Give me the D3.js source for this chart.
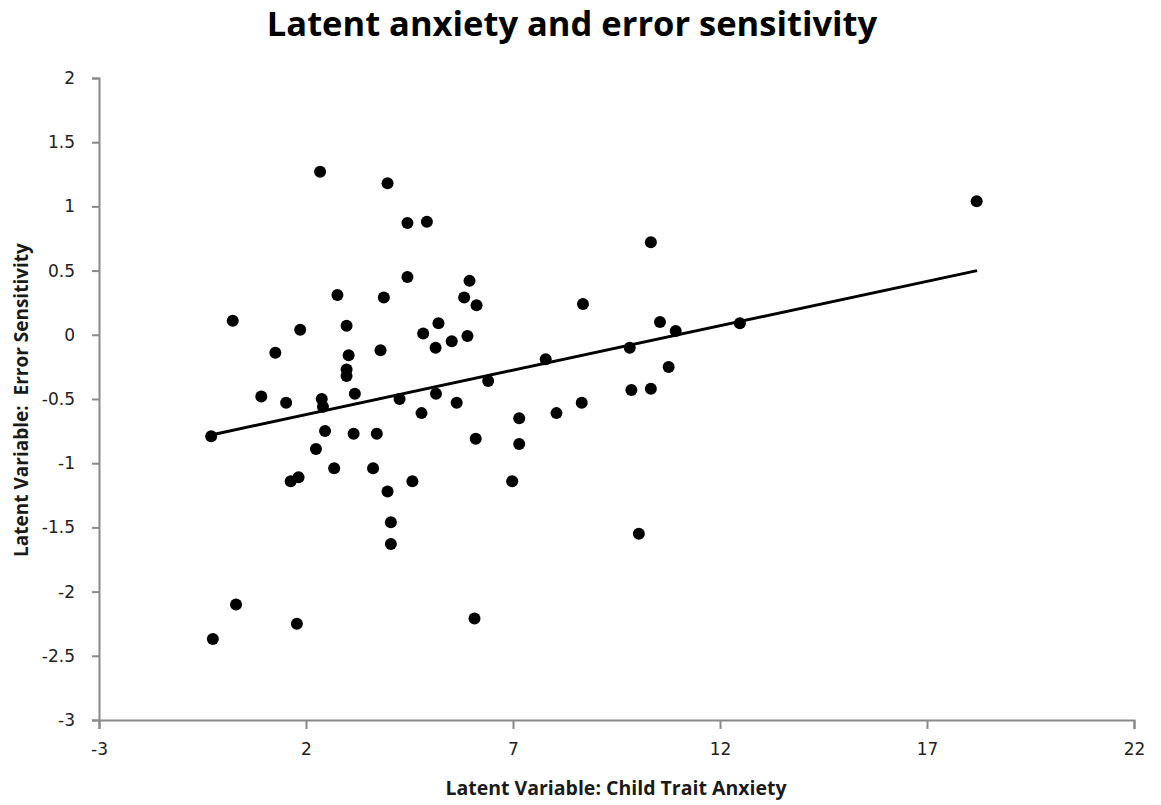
<!DOCTYPE html>
<html>
<head>
<meta charset="utf-8">
<script src="https://cdn.jsdelivr.net/npm/d3@7"></script>
<style>
  body { margin: 0; background: #fff; }
</style>
</head>
<body>
<div id="chart"></div>
<script>
// values
var anxiety = [2.34, 3.97, 4.45, 4.92, 4.45, 5.95, 2.76, 3.88, 5.82, 6.12,
    0.23, 1.86, 2.98, 5.20, 4.83, 5.90, 5.52, 5.13, 1.26, 3.80,
    3.03, 2.98, 2.98, 6.40, 3.18, 0.92, 5.14, 4.26, 1.52, 2.38,
    2.41, 5.64, 4.79, -0.29, 2.46, 3.15, 3.71, 6.10, 2.24, 2.68,
    3.62, 1.63, 1.82, 4.57, 3.97, 4.05, 4.05, 0.31, 1.78, -0.25,
    6.07, 10.33, 8.69, 10.55, 10.93, 12.48, 7.79, 9.82, 10.76, 9.86,
    10.33, 8.66, 8.05, 7.15, 7.15, 6.98, 10.04, 18.20];
var sensitivity = [1.27, 1.18, 0.87, 0.88, 0.45, 0.42, 0.31, 0.29, 0.29, 0.23,
    0.11, 0.04, 0.07, 0.09, 0.01, -0.01, -0.05, -0.10, -0.14, -0.12,
    -0.16, -0.27, -0.32, -0.36, -0.46, -0.48, -0.46, -0.50, -0.53, -0.50,
    -0.56, -0.53, -0.61, -0.79, -0.75, -0.77, -0.77, -0.81, -0.89, -1.04,
    -1.04, -1.14, -1.11, -1.14, -1.22, -1.46, -1.63, -2.10, -2.25, -2.37,
    -2.21, 0.72, 0.24, 0.10, 0.03, 0.09, -0.19, -0.10, -0.25, -0.43,
    -0.42, -0.53, -0.61, -0.65, -0.85, -1.14, -1.55, 1.04];
var trendX = [-0.29, 18.21];
var trendY = [-0.78, 0.50];
var xTicks = [-3, 2, 7, 12, 17, 22];
var yTicks = [2, 1.5, 1, 0.5, 0, -0.5, -1, -1.5, -2, -2.5, -3];

var svgWidth = 1161, svgHeight = 805;
var margin = {top: 78, right: 27, bottom: 85, left: 99};
var width = svgWidth - margin.left - margin.right;
var height = svgHeight - margin.top - margin.bottom;

var svg = d3.select('#chart').append('svg')
    .attr('width', svgWidth).attr('height', svgHeight);

var g = svg.append('g')
    .attr('transform', 'translate(' + margin.left + ' ' + margin.top + ')');

var x = d3.scaleLinear().domain([-3, 22]).range([0, width]);
var y = d3.scaleLinear().domain([-3, 2]).range([height, 0]);

// axes (plain hyphen for negatives, like the original)
var fmt = function(d) { return String(d); };
g.append('g')
    .attr('class', 'x axis')
    .attr('transform', 'translate(0 ' + height + ')')
    .call(d3.axisBottom(x).tickValues(xTicks).tickSize(9).tickPadding(14).tickFormat(fmt));
g.append('g')
    .attr('class', 'y axis')
    .call(d3.axisLeft(y).tickValues(yTicks).tickSize(7).tickPadding(17).tickFormat(fmt));

g.selectAll('.axis path, .axis line')
    .attr('stroke', '#898989').attr('stroke-width', 2);
g.selectAll('.axis text')
    .attr('font-family', 'DejaVu Sans')
    .attr('font-size', '17px')
    .attr('fill', '#222');

// trend line
var pts = trendX.map(function(d, i) { return [d, trendY[i]]; });
g.append('path')
    .datum(pts)
    .attr('fill', 'none')
    .attr('stroke', '#000')
    .attr('stroke-width', 3)
    .attr('d', d3.line().x(function(d) { return x(d[0]); }).y(function(d) { return y(d[1]); }));

// points
g.selectAll('circle.dot')
    .data(anxiety)
    .enter().append('circle')
    .attr('class', 'dot')
    .attr('cx', function(d) { return x(d); })
    .attr('cy', function(d, i) { return y(sensitivity[i]); })
    .attr('r', 6)
    .attr('fill', '#000');

// titles
svg.append('text')
    .attr('x', 572).attr('y', 36)
    .attr('text-anchor', 'middle')
    .attr('font-family', 'Open Sans')
    .attr('font-weight', 'bold')
    .attr('font-size', '34.5px')
    .attr('fill', '#000')
    .text('Latent anxiety and error sensitivity');

svg.append('text')
    .attr('x', 616).attr('y', 795)
    .attr('text-anchor', 'middle')
    .attr('font-family', 'Open Sans')
    .attr('font-weight', 'bold')
    .attr('font-size', '19.5px')
    .attr('fill', '#1a1a1a')
    .text('Latent Variable: Child Trait Anxiety');

svg.append('text')
    .attr('transform', 'translate(28 400) rotate(-90)')
    .attr('text-anchor', 'middle')
    .attr('font-family', 'Open Sans')
    .attr('font-weight', 'bold')
    .attr('font-size', '19px')
    .attr('fill', '#1a1a1a')
    .style('white-space', 'pre')
    .text('Latent Variable:  Error Sensitivity');
</script>
</body>
</html>
